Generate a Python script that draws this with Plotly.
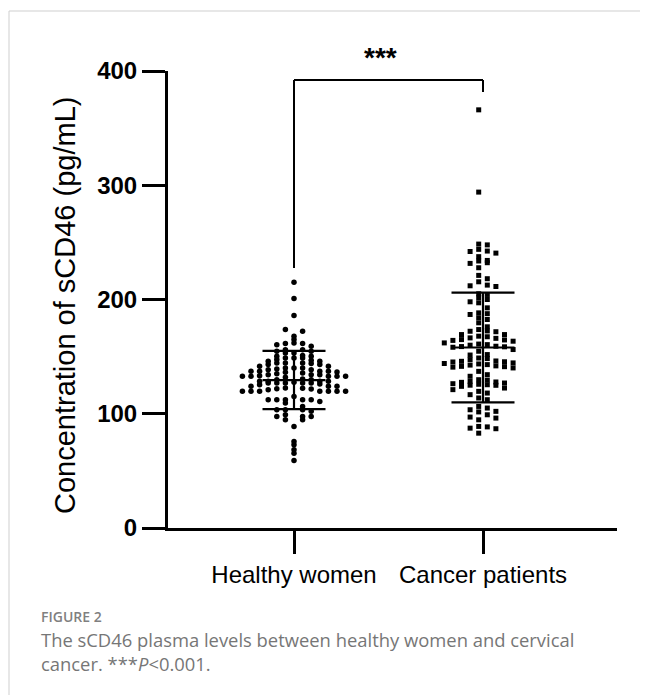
import numpy as np
import plotly.graph_objects as go

# ---------------- data ----------------
categories = ["Healthy women", "Cancer patients"]

healthy_values = [
    137.1, 133.3, 129.8, 126.0, 121.9,
    140.1, 136.3, 132.8, 128.4, 124.0, 119.6,
    139.2, 130.4, 122.5,
    150.9, 146.8, 143.0, 138.6, 135.1, 126.9, 119.6, 112.3,
    160.5, 153.2, 148.8, 144.5, 140.1, 135.7, 129.8, 125.4, 119.6, 112.3, 102.1, 97.7,
    164.9, 154.7, 150.3, 145.9, 141.5, 134.2, 126.9, 119.6, 110.8, 103.5, 99.1, 94.7,
    215.2, 200.9, 186.0, 173.7, 162.0, 159.1, 154.7, 150.3, 145.9, 141.5, 137.1,
    132.8, 128.4, 124.0, 119.6, 115.2, 109.4, 103.5, 94.7, 88.9,
    172.2, 167.8, 161.4, 156.1, 148.8, 144.5, 140.1, 132.8, 126.9, 121.1, 112.3,
    106.4, 97.7, 75.7, 68.4,
    161.4, 153.2, 148.8, 144.5, 137.1, 132.8, 126.9, 119.6, 112.3, 103.5, 97.7,
    156.1, 147.4, 143.0, 138.6, 134.2, 126.9, 119.6, 112.3,
    143.9, 134.2, 128.4, 124.0,
    137.1, 132.8, 128.4, 121.6,
    136.5, 131.9, 127.6, 122.3,
    72.8, 65.5, 59.1,
]

cancer_values = [
    366.0, 294.0,
    248.5, 247.8, 243.9, 242.4, 242.0, 240.6, 237.5, 234.2, 233.7, 232.2, 231.6,
    227.8, 221.1, 218.2, 215.5, 212.6, 212.0, 211.4,
    205.0, 204.4, 201.5, 200.0, 198.0, 197.1, 192.7, 188.3, 187.6, 186.9, 184.0,
    182.5, 179.6, 176.1,
    169.3, 164.9, 160.5, 166.4, 159.1, 172.2, 166.0, 158.6, 154.7,
    173.7, 169.3, 164.2, 160.0, 171.8, 167.9, 162.0, 156.2, 172.5, 167.4, 161.0,
    163.5, 158.8, 164.6, 158.2,
    145.3, 151.8, 145.9, 141.5, 143.6, 148.8, 143.0, 145.5, 141.2, 137.1,
    148.3, 140.8, 151.4, 147.4, 142.6, 140.1, 146.2, 141.9, 144.5, 144.0,
    127.8, 124.9, 132.8, 127.5, 124.0, 119.6, 134.2, 129.8, 125.4, 121.1,
    116.7, 112.3, 129.4, 125.8, 126.9, 122.5, 118.1, 128.4, 125.0, 126.3, 113.8,
    103.5, 94.7, 105.0, 99.1, 87.4, 83.0, 102.1, 86.9, 106.4, 101.6,
    97.1, 88.9, 96.2, 88.5,
]

healthy_mean, healthy_sd = 129.5, 25.5
cancer_mean, cancer_sd = 158.0, 48.0

y_ticks = [0, 100, 200, 300, 400]
y_title = "Concentration of sCD46 (pg/mL)"
sig_label = "***"
caption_head = "FIGURE 2"
caption_line1 = "The sCD46 plasma levels between healthy women and cervical"
caption_line2 = "cancer. ***<i>P</i>&lt;0.001."

# ---------------- layout geometry (reference-window pixels) ----------------
PAGE_W, PAGE_H = 648, 695
BODY = 8                     # default page margin around the plot div
W, H = PAGE_W - BODY, PAGE_H - BODY
L, R, T, B = 168, 617, 71, 528
X1_PX, X2_PX = 294, 483
unit_px = X2_PX - X1_PX
x_lo = 1 - (X1_PX - L) / unit_px
x_hi = 2 + (R - X2_PX) / unit_px
col_w = 8.6 / unit_px           # width of one swarm column in x units
half_bar = 31.5 / unit_px       # half-length of mean / SD bars
px_per_unit = (B - T) / 400.0


def px_x(px):
    return (px - L) / (R - L)


def px_y(py):
    return (B - py) / (B - T)


def swarm_offsets(values, bin_h, half):
    vals = np.asarray(values, float)
    bins = np.floor(vals / bin_h).astype(int)
    offs = np.zeros(len(vals))
    for b in np.unique(bins):
        idx = np.where(bins == b)[0]
        idx = idx[np.argsort(-vals[idx])]
        n = len(idx)
        seq = []
        if half:
            k = 0
            while len(seq) < n:
                seq += [-(k + 0.5), k + 0.5]
                k += 1
        else:
            if n % 2:
                seq = [0]
            k = 1
            while len(seq) < n:
                seq += [-k, k]
                k += 1
        offs[idx] = seq[:n]
    return offs


FONT = "Liberation Sans, Arial, sans-serif"
CAP_FONT = "Open Sans, Noto Sans, sans-serif"

fig = go.Figure()

h_off = swarm_offsets(healthy_values, 4.4, False)
c_off = swarm_offsets(cancer_values, 6.0, True)

fig.add_trace(go.Scatter(
    x=1 + h_off * col_w, y=healthy_values, mode="markers",
    marker=dict(symbol="circle", size=5.5, color="black", line=dict(width=0)),
    hoverinfo="y"))
fig.add_trace(go.Scatter(
    x=2 + c_off * col_w, y=cancer_values, mode="markers",
    marker=dict(symbol="square", size=5, color="black", line=dict(width=0)),
    hoverinfo="y"))


def mean_sd_trace(xc, m, s):
    xs, ys = [], []
    for v in (m - s, m, m + s):
        xs += [xc - half_bar, xc + half_bar, None]
        ys += [v, v, None]
    xs += [xc, xc]
    ys += [m - s, m + s]
    return go.Scatter(x=xs, y=ys, mode="lines",
                      line=dict(color="black", width=2.2), hoverinfo="skip")


fig.add_trace(mean_sd_trace(1, healthy_mean, healthy_sd))
fig.add_trace(mean_sd_trace(2, cancer_mean, cancer_sd))

# significance bracket
br_top = (B - 80) / px_per_unit
br_left_bot = (B - 268) / px_per_unit
br_right_bot = (B - 92) / px_per_unit
for x0, y0, x1, y1 in [(1, br_left_bot, 1, br_top), (1, br_top, 2, br_top),
                       (2, br_top, 2, br_right_bot)]:
    fig.add_shape(type="line", xref="x", yref="y", x0=x0, y0=y0, x1=x1, y1=y1,
                  line=dict(color="black", width=2))

fig.add_annotation(x=px_x(380), y=px_y(57), xref="paper", yref="paper",
                   xanchor="center", yanchor="middle",
                   text=sig_label, showarrow=False,
                   font=dict(family=FONT, size=28, color="black", weight="bold"))

fig.add_annotation(x=px_x(65), y=px_y(306), xref="paper", yref="paper",
                   xanchor="center", yanchor="middle",
                   text=y_title, textangle=-90, showarrow=False,
                   font=dict(family=FONT, size=29, color="black"))

# caption
fig.add_annotation(x=px_x(39), y=px_y(616), xref="paper", yref="paper",
                   xanchor="left", yanchor="middle", text=caption_head, showarrow=False,
                   font=dict(family=CAP_FONT, size=14, color="#808080", weight=600))
fig.add_annotation(x=px_x(39), y=px_y(639), xref="paper", yref="paper",
                   xanchor="left", yanchor="middle", text=caption_line1, showarrow=False,
                   font=dict(family=CAP_FONT, size=18.4, color="#767676"))
fig.add_annotation(x=px_x(39), y=px_y(663), xref="paper", yref="paper",
                   xanchor="left", yanchor="middle", text=caption_line2, showarrow=False,
                   font=dict(family=CAP_FONT, size=18.4, color="#767676"))

# frame
fig.add_shape(type="line", xref="paper", yref="paper",
              x0=px_x(9), y0=px_y(11), x1=px_x(9), y1=px_y(PAGE_H + 5),
              line=dict(color="#cfcfcf", width=1))
fig.add_shape(type="line", xref="paper", yref="paper",
              x0=px_x(9), y0=px_y(11), x1=px_x(PAGE_W + 5), y1=px_y(11),
              line=dict(color="#cfcfcf", width=1))

fig.update_layout(
    width=W, height=H,
    margin=dict(l=L - BODY, r=PAGE_W - R, t=T - BODY, b=PAGE_H - B),
    plot_bgcolor="white", paper_bgcolor="white",
    showlegend=False,
    xaxis=dict(range=[x_lo, x_hi], tickvals=[1, 2], ticktext=categories,
               showline=True, linewidth=3, linecolor="black",
               ticks="outside", ticklen=23, tickwidth=3, tickcolor="black",
               showgrid=False, zeroline=False,
               tickfont=dict(family=FONT, size=24, color="black")),
    yaxis=dict(range=[0, 400], tickvals=y_ticks,
               showline=True, linewidth=3, linecolor="black",
               ticks="outside", ticklen=23, tickwidth=3, tickcolor="black",
               showgrid=False, zeroline=False,
               tickfont=dict(family=FONT, size=24, color="black", weight="bold")),
)

fig.write_html("out.html")
